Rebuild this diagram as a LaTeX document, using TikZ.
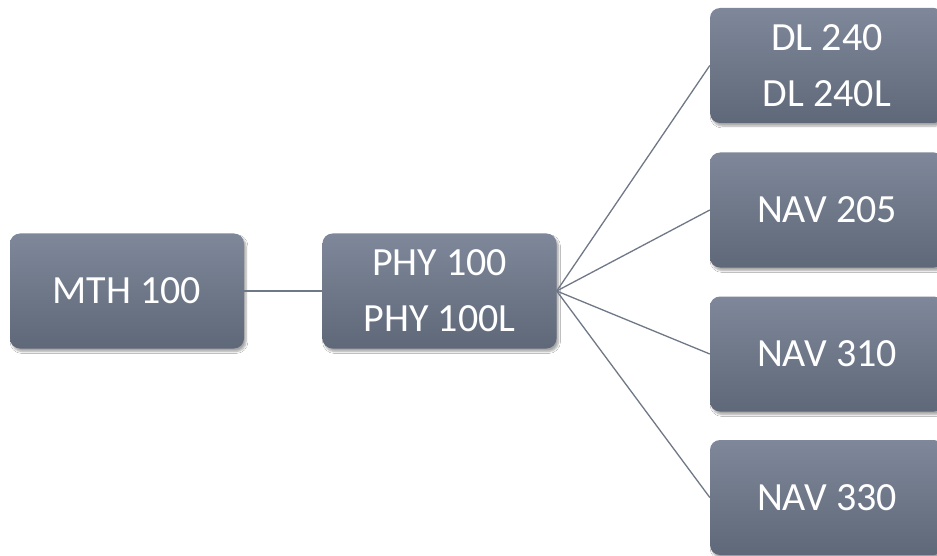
\documentclass[tikz,border=0pt]{standalone}
\usepackage{fontspec}
\setmainfont{Carlito}
\usetikzlibrary{shadows.blur}
\definecolor{boxtop}{HTML}{7E889A}
\definecolor{boxbot}{HTML}{5E6878}
\definecolor{linkc}{HTML}{6F7886}
\tikzset{
  course/.style={rectangle, rounded corners=10pt, minimum width=234pt, minimum height=115pt,
    inner sep=0pt, top color=boxtop, bottom color=boxbot, draw=none, text=white,
    align=center, font=\fontsize{40}{56}\selectfont,
    blur shadow={shadow xshift=2pt, shadow yshift=-3pt, shadow blur steps=6, shadow opacity=35}},
  link/.style={draw=linkc, line width=1.3pt}
}
\begin{document}
\begin{tikzpicture}[x=1pt,y=-1pt]
\useasboundingbox[fill=white] (0,0) rectangle (937,556);
\node[course] (mth) at (127,291) {MTH 100};
\node[course] (phy) at (439.5,291) {PHY 100\\PHY 100L};
\node[course] (dl) at (827,65.5) {DL 240\\DL 240L};
\node[course] (n205) at (827,210) {NAV 205};
\node[course] (n310) at (827,354) {NAV 310};
\node[course] (n330) at (827,497.5) {NAV 330};
\draw[link] (mth.east) -- (phy.west);
\foreach \t in {dl,n205,n310,n330}{
  \draw[link] (phy.east) -- (\t.west);
}
\end{tikzpicture}
\end{document}
